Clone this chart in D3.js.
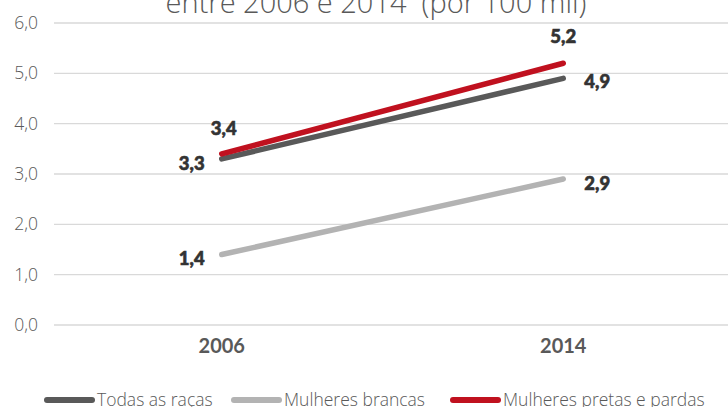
<!DOCTYPE html>
<html>
<head>
<meta charset="utf-8">
<script src="https://cdn.jsdelivr.net/npm/d3@7"></script>
<style>
  html, body { margin: 0; padding: 0; background: #ffffff; }
  svg { display: block; }
</style>
</head>
<body>
<svg id="chart" width="728" height="407"></svg>
<script>
// Taxa de homicídios de mulheres, 2006 e 2014 (por 100 mil)
const years = ["2006", "2014"];
const seriesNames = ["Todas as raças", "Mulheres brancas", "Mulheres pretas e pardas"];
const todasAsRacas = [3.3, 4.9];
const mulheresBrancas = [1.4, 2.9];
const mulheresPretasPardas = [3.4, 5.2];
const yTicks = [0, 1, 2, 3, 4, 5, 6];
const seriesColors = ["#595959", "#b3b3b3", "#c0111f"];

const series = [
  { name: seriesNames[0], values: todasAsRacas, color: seriesColors[0] },
  { name: seriesNames[1], values: mulheresBrancas, color: seriesColors[1] },
  { name: seriesNames[2], values: mulheresPretasPardas, color: seriesColors[2] }
];

const svg = d3.select("#chart");
const fmt = v => v.toFixed(1).replace(".", ",");

const x = d3.scaleBand().domain(years).range([51, 734]);
const y = d3.scaleLinear().domain([0, 6]).range([325, 23]);
const cx = d => x(d) + x.bandwidth() / 2;

// Title (its top runs above the visible area)
svg.append("text")
  .attr("x", 376).attr("y", 13)
  .attr("text-anchor", "middle")
  .attr("font-family", "'Open Sans', Lato, sans-serif")
  .attr("font-weight", 300)
  .attr("font-size", 29)
  .attr("fill", "#595959")
  .attr("xml:space", "preserve")
  .text("entre 2006 e 2014  (por 100 mil)");

// Horizontal gridlines
svg.append("g").selectAll("line").data(yTicks).join("line")
  .attr("x1", 54).attr("x2", 728)
  .attr("y1", d => y(d)).attr("y2", d => y(d))
  .attr("stroke", "#d9d9d9").attr("stroke-width", 1.3);

// Y axis labels
const yAxis = d3.axisLeft(y).tickValues(yTicks).tickFormat(fmt).tickSize(0).tickPadding(0);
const gy = svg.append("g").attr("transform", "translate(38,0)").call(yAxis);
gy.select(".domain").remove();
gy.selectAll("text")
  .attr("font-family", "'Open Sans', Lato, sans-serif")
  .attr("font-weight", 300)
  .attr("font-size", 17.5)
  .attr("fill", "#595959");

// X axis labels
const xAxis = d3.axisBottom(x).tickSize(0).tickPadding(0);
const gx = svg.append("g").attr("transform", "translate(0,339)").call(xAxis);
gx.select(".domain").remove();
gx.selectAll("text")
  .attr("font-family", "Lato, 'Open Sans', sans-serif")
  .attr("font-weight", 700)
  .attr("font-size", 20)
  .attr("fill", "#595959");

// Series lines
const line = d3.line().x((d, i) => cx(years[i])).y(d => y(d));
svg.append("g").selectAll("path").data(series).join("path")
  .attr("d", d => line(d.values))
  .attr("fill", "none")
  .attr("stroke", d => d.color)
  .attr("stroke-width", 5.5)
  .attr("stroke-linecap", "round");

// Data labels
const labelSpecs = [
  { s: 0, i: 0, dx: -30, dy: 11 },
  { s: 0, i: 1, dx: 34, dy: 10 },
  { s: 1, i: 0, dx: -30, dy: 10 },
  { s: 1, i: 1, dx: 34, dy: 11 },
  { s: 2, i: 0, dx: 2, dy: -19 },
  { s: 2, i: 1, dx: 0, dy: -20 }
];
svg.append("g").selectAll("text").data(labelSpecs).join("text")
  .attr("x", d => cx(years[d.i]) + d.dx)
  .attr("y", d => y(series[d.s].values[d.i]) + d.dy)
  .attr("text-anchor", "middle")
  .attr("font-family", "Lato, 'Open Sans', sans-serif")
  .attr("font-weight", 900)
  .attr("font-size", 18.5)
  .attr("fill", "#333333")
  .attr("stroke", "#333333")
  .attr("stroke-width", 0.6)
  .text(d => fmt(series[d.s].values[d.i]));

// Legend
const legendX = [44, 231, 450];
const lg = svg.append("g").selectAll("g").data(series).join("g")
  .attr("transform", (d, i) => `translate(${legendX[i]},400)`);
lg.append("line")
  .attr("x1", 3).attr("x2", 48).attr("y1", 0).attr("y2", 0)
  .attr("stroke", d => d.color).attr("stroke-width", 6)
  .attr("stroke-linecap", "round");
lg.append("text")
  .attr("x", 53).attr("y", 6)
  .attr("font-family", "'Open Sans', Lato, sans-serif")
  .attr("font-weight", 300)
  .attr("font-size", 17.5)
  .attr("fill", "#595959")
  .text(d => d.name);
</script>
</body>
</html>
